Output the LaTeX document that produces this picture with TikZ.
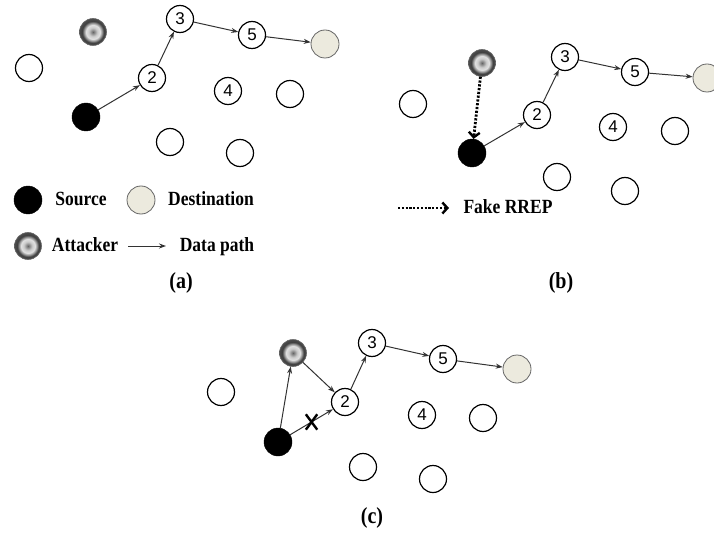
\documentclass[tikz,border=0pt]{standalone}
\usepackage{fontspec}
\setmainfont{Liberation Serif}
\newfontfamily\numfont{Liberation Sans}
\usetikzlibrary{arrows.meta,shapes.misc}
\pgfdeclareradialshading{attackshade}{\pgfpoint{0bp}{0bp}}{%
  color(0bp)=(black!60);
  color(3bp)=(black!45);
  color(8bp)=(black!20);
  color(13bp)=(black!12);
  color(17bp)=(black!45);
  color(20bp)=(black!75);
  color(25bp)=(black!70);
  color(50bp)=(black!70)}
\definecolor{destfill}{RGB}{236,234,222}
\tikzset{
  nd/.style={circle,draw=black,line width=1.2pt,minimum size=27pt,inner sep=0pt,font=\numfont\fontsize{17}{17}\selectfont},
  srcnode/.style={circle,fill=black,draw=black,minimum size=28pt,inner sep=0pt},
  dstnode/.style={circle,fill=destfill,draw=black!60,line width=0.8pt,minimum size=28pt,inner sep=0pt},
  attnode/.style={circle,shading=attackshade,draw=black!60,line width=0.6pt,minimum size=27pt,inner sep=0pt},
  link/.style={draw=black!80,line width=1pt,-{Stealth[length=7pt,width=5pt]}},
  fake/.style={draw=black,line width=2.8pt,dash pattern=on 2.2pt off 1.6pt,-{Straight Barb[length=5pt,width=11pt,line width=2.4pt]}},
  legtext/.style={font=\bfseries\fontsize{17.5}{18}\selectfont,inner sep=0pt,text height=14pt,text depth=4pt},
  caplabel/.style={font=\bfseries\fontsize{20}{20}\selectfont,inner sep=0pt},
  xmark/.style={cross out,draw=black,line width=2.4pt,minimum width=9pt,minimum height=13pt,inner sep=0pt}
}
\newcommand{\tallt}[1]{\scalebox{1}[1.15]{#1}}
\begin{document}
\begin{tikzpicture}[x=1pt,y=-1pt]
\useasboundingbox (0,0) rectangle (714,540);
% ---------- panel (a)
\node[nd] (a_e1) at (29,68) {};
\node[attnode] (a_att) at (93,32) {};
\node[nd] (a_3) at (180,19) {3};
\node[nd] (a_5) at (252,35) {5};
\node[dstnode] (a_d) at (325,44) {};
\node[nd] (a_2) at (152,78) {2};
\node[nd] (a_4) at (228,91) {4};
\node[nd] (a_e2) at (290,94) {};
\node[srcnode] (a_s) at (86,117) {};
\node[nd] (a_e3) at (170,142) {};
\node[nd] (a_e4) at (240,153) {};
\draw[link] (a_s) -- (a_2);
\draw[link] (a_2) -- (a_3);
\draw[link] (a_3) -- (a_5);
\draw[link] (a_5) -- (a_d);
% legend (a)
\node[srcnode] (l_s) at (28,200) {};
\node[legtext] (l_st) at (81,200) {\tallt{Source}};
\node[dstnode] (l_d) at (141,200) {};
\node[legtext] (l_dt) at (211,200) {\tallt{Destination}};
\node[attnode] (l_a) at (28,246) {};
\node[legtext] (l_at) at (85,246) {\tallt{Attacker}};
\coordinate (l_p1) at (128,246);
\coordinate (l_p2) at (166,246);
\draw[link] (l_p1) -- (l_p2);
\node[legtext] (l_pt) at (217,246) {\tallt{Data path}};
\node[caplabel] (cap_a) at (181,283) {\tallt{(a)}};
% ---------- panel (b)
\node[attnode] (b_att) at (482,63) {};
\node[nd] (b_e1) at (413,104) {};
\node[nd] (b_3) at (565,57) {3};
\node[nd] (b_5) at (635,72) {5};
\node[dstnode] (b_d) at (707,78) {};
\node[nd] (b_2) at (537,115) {2};
\node[nd] (b_4) at (613,127) {4};
\node[nd] (b_e2) at (675,131) {};
\node[srcnode] (b_s) at (472,153) {};
\node[nd] (b_e3) at (557,177) {};
\node[nd] (b_e4) at (625,191) {};
\draw[link] (b_s) -- (b_2);
\draw[link] (b_2) -- (b_3);
\draw[link] (b_3) -- (b_5);
\draw[link] (b_5) -- (b_d);
\draw[fake] (b_att) -- (b_s);
\coordinate (f_p1) at (398,208);
\coordinate (f_p2) at (449,208);
\draw[fake] (f_p1) -- (f_p2);
\node[legtext] (f_t) at (508,208) {\tallt{Fake RREP}};
\node[caplabel] (cap_b) at (561,283) {\tallt{(b)}};
% ---------- panel (c)
\node[attnode] (c_att) at (293,353) {};
\node[nd] (c_3) at (372,343) {3};
\node[nd] (c_5) at (443,359) {5};
\node[dstnode] (c_d) at (517,369) {};
\node[nd] (c_e1) at (221,392) {};
\node[nd] (c_2) at (345,402) {2};
\node[nd] (c_4) at (422,415) {4};
\node[nd] (c_e2) at (483,418) {};
\node[srcnode] (c_s) at (278,442) {};
\node[nd] (c_e3) at (363,467) {};
\node[nd] (c_e4) at (433,479) {};
\draw[link] (c_s) -- (c_att);
\draw[link] (c_att) -- (c_2);
\draw[link] (c_s) -- (c_2) node[xmark,pos=0.5] (c_x) {};
\draw[link] (c_2) -- (c_3);
\draw[link] (c_3) -- (c_5);
\draw[link] (c_5) -- (c_d);
\node[caplabel] (cap_c) at (372,518) {\tallt{(c)}};
\end{tikzpicture}
\end{document}
